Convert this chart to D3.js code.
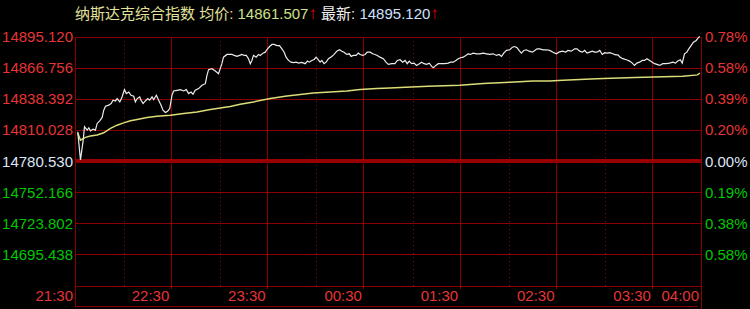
<!DOCTYPE html>
<html><head><meta charset="utf-8">
<script src="https://cdn.jsdelivr.net/npm/d3@7"></script>
<style>html,body{margin:0;padding:0;background:#000;overflow:hidden}</style>
</head><body>
<svg id="c" width="750" height="309"></svg>
<script>
// ---- data ----
const indexName = "纳斯达克综合指数";
const avgPrice = "14861.507";
const lastPrice = "14895.120";
const basePrice = 14780.53;
const priceStep = 28.6475;
const leftLabels = ["14895.120","14866.756","14838.392","14810.028","14780.530","14752.166","14723.802","14695.438"];
const rightLabels = ["0.78%","0.58%","0.39%","0.20%","0.00%","0.19%","0.38%","0.58%"];
const timeLabels = ["21:30","22:30","23:30","00:30","01:30","02:30","03:30","04:00"];
const timeLabelMinutes = [0,60,120,180,240,300,360,390];
const halfHourMinutes = [30,90,150,210,270,330];
const sessionMinutes = 390;

const priceTimes = [
1.4,3.1,4.8,5.6,7.3,8.3,9.3,11.0,12.4,13.5,
15.1,16.6,17.6,18.7,20.7,22.2,23.4,24.9,25.9,27.6,
29.0,30.5,31.7,33.2,34.6,36.3,37.3,38.4,40.0,40.8,
42.1,43.5,45.0,46.2,47.7,48.7,50.4,51.8,53.3,54.5,
56.0,57.4,58.7,60.1,61.1,63.3,65.3,67.4,69.0,70.5,
72.0,73.2,74.6,76.7,78.8,80.9,81.9,82.9,85.0,87.1,
89.1,91.2,92.2,94.4,95.4,97.5,98.9,100.6,102.2,103.7,
105.1,106.4,107.8,108.9,109.9,110.9,112.6,114.0,115.1,116.8,
118.2,119.2,120.9,122.4,123.8,125.5,127.1,128.6,130.0,131.2,
132.7,134.2,135.8,137.5,138.9,141.0,143.1,144.5,145.7,147.2,
148.7,149.9,151.3,152.4,153.4,154.9,156.1,157.6,159.7,161.1,
162.8,164.4,165.9,167.3,169.0,170.6,171.7,173.1,174.8,176.2,
177.3,179.0,180.4,181.8,183.5,185.2,186.6,188.0,189.7,191.8,
193.4,194.9,197.0,199.0,200.5,202.2,203.8,205.3,206.7,207.9,
209.4,210.9,212.5,214.2,215.6,217.1,218.8,220.4,221.9,222.9,
224.5,226.0,228.1,230.1,232.2,233.7,235.3,237.0,238.4,239.9,
241.5,243.2,244.6,246.1,247.7,249.9,251.9,254.0,256.1,258.1,
260.2,262.3,263.9,265.4,266.8,268.5,270.6,272.2,273.7,275.1,
276.3,277.8,279.3,280.9,282.6,284.7,286.1,287.6,289.2,291.3,
293.4,295.4,297.5,299.6,301.2,303.3,305.4,306.8,308.9,311.0,
312.4,314.1,315.8,317.2,318.7,320.3,322.0,323.4,324.9,326.6,
328.2,329.7,331.1,332.8,334.8,336.5,337.9,339.4,341.0,343.2,
345.2,346.9,348.3,349.7,351.4,353.1,354.5,356.0,357.7,359.3,
360.8,362.2,363.9,365.9,368.0,370.1,372.1,373.8,375.2,376.8,
378.0,379.4,380.9,382.1,383.6,385.0,386.7,388.3,389.0];

const priceValues = [
14807.4,14781.5,14799.8,14812.0,14809.0,14811.1,14808.3,14809.9,14809.0,14815.1,
14817.5,14820.6,14827.3,14830.9,14831.9,14833.4,14836.5,14835.8,14838.0,14834.9,
14839.5,14846.2,14842.6,14844.0,14841.0,14840.1,14834.9,14838.0,14839.5,14836.5,
14833.4,14835.8,14838.0,14836.5,14839.5,14837.1,14841.0,14836.5,14831.9,14827.3,
14825.2,14826.4,14828.8,14841.0,14845.0,14845.6,14846.2,14845.0,14846.2,14842.6,
14844.0,14841.9,14845.6,14847.2,14850.2,14851.7,14859.4,14864.6,14865.5,14863.3,
14860.9,14870.1,14876.1,14878.6,14878.6,14878.6,14877.7,14876.8,14877.7,14878.6,
14877.7,14877.7,14874.7,14870.1,14873.1,14877.7,14876.1,14878.6,14877.7,14879.8,
14880.7,14882.9,14885.9,14887.8,14887.8,14886.8,14886.8,14883.8,14880.7,14876.1,
14873.1,14871.5,14871.0,14871.5,14870.6,14871.3,14870.1,14872.5,14871.5,14873.1,
14874.0,14876.1,14873.7,14871.5,14873.1,14870.1,14871.5,14874.7,14876.8,14878.6,
14881.6,14882.9,14881.6,14880.7,14878.6,14879.2,14876.8,14877.7,14877.7,14879.8,
14878.6,14877.7,14878.6,14880.7,14880.7,14879.2,14878.6,14877.7,14876.1,14874.7,
14871.5,14869.5,14870.1,14870.1,14873.1,14873.7,14871.5,14873.1,14870.1,14872.5,
14870.1,14870.6,14868.5,14870.1,14871.5,14870.1,14869.5,14870.6,14867.6,14866.4,
14868.5,14870.1,14870.1,14870.1,14870.6,14871.5,14871.5,14873.1,14874.7,14875.6,
14876.1,14877.7,14879.2,14878.6,14879.8,14879.2,14879.2,14879.8,14879.2,14878.6,
14879.2,14877.7,14878.6,14876.8,14879.8,14882.3,14882.9,14885.3,14885.9,14884.8,
14882.3,14879.8,14882.3,14882.9,14881.6,14880.7,14882.3,14883.8,14883.8,14882.9,
14882.9,14882.3,14880.7,14879.2,14880.7,14881.6,14880.7,14882.3,14881.6,14883.8,
14883.8,14881.6,14880.7,14882.3,14879.8,14880.7,14881.6,14880.7,14880.7,14882.3,
14878.6,14880.2,14879.8,14880.2,14879.2,14878.3,14878.3,14876.1,14874.7,14873.7,
14872.5,14870.6,14868.5,14870.6,14871.5,14873.1,14873.1,14874.7,14873.1,14871.5,
14870.1,14869.5,14868.5,14870.1,14870.1,14870.6,14871.5,14870.6,14872.5,14873.7,
14870.6,14879.2,14880.7,14883.8,14886.9,14889.9,14891.5,14894.5,14895.12];

const avgTimes = [1.4,3.1,6.2,9.3,13.5,17.6,21.8,25.9,30.0,34.2,38.4,44.6,50.8,59.1,67.4,75.7,84.0,92.2,96.4,102.6,110.9,121.3,131.7,140.0,148.2,158.6,169.0,177.3,187.7,195.9,202.2,219.8,239.5,254.0,270.6,285.1,295.4,303.7,324.5,348.3,378.4,387.5,389.0];
const avgValues = [14806.2,14799.8,14802.3,14803.5,14804.4,14806.5,14810.5,14813.5,14815.6,14817.5,14818.8,14820.6,14821.8,14822.7,14824.3,14825.7,14827.9,14829.8,14830.7,14832.8,14834.9,14838.0,14840.4,14841.7,14843.1,14844.1,14845.0,14846.3,14847.2,14847.7,14848.1,14849.3,14850.2,14851.8,14853.0,14854.1,14854.1,14854.8,14856.3,14857.3,14858.5,14859.8,14861.5];

// ---- chart ----
const svg = d3.select("#c");
svg.append("rect").attr("width",750).attr("height",309).attr("fill","#000");
const L = 75.5, R = 701.5, T = 36.5, B = 285.5;
const x = d3.scaleLinear().domain([0, sessionMinutes]).range([L, R]);
const y = d3.scaleLinear().domain([basePrice - 4*priceStep, basePrice + 4*priceStep]).range([B, T]);
const gridColor = "#8a0000";
const font = "'Liberation Sans', Arial, 'Noto Sans CJK SC', sans-serif";
const colRed = "#e53535", colGreen = "#00c800", colBase = "#dde6f5";

const g = svg.append("g").attr("shape-rendering","crispEdges");
const levels = d3.range(4, -5, -1).map(k => basePrice + k*priceStep);
// horizontal grid
g.selectAll("line.h").data(levels).enter().append("line")
  .attr("x1", L).attr("x2", R)
  .attr("y1", (d,i) => i === 4 ? Math.round(y(d)) : Math.round(y(d)) + 0.5)
  .attr("y2", (d,i) => i === 4 ? Math.round(y(d)) : Math.round(y(d)) + 0.5)
  .attr("stroke", (d,i) => i === 4 ? "#990000" : gridColor)
  .attr("stroke-width", (d,i) => i === 4 ? 4 : 1);
// dotted verticals
g.selectAll("line.d").data(halfHourMinutes).enter().append("line")
  .attr("x1", d => Math.round(x(d)) + 0.5).attr("x2", d => Math.round(x(d)) + 0.5)
  .attr("y1", T).attr("y2", B)
  .attr("stroke", "#9a0000").attr("stroke-dasharray", "1,3");
// solid verticals
g.selectAll("line.v").data(timeLabelMinutes).enter().append("line")
  .attr("x1", d => Math.round(x(d)) - 0.5).attr("x2", d => Math.round(x(d)) - 0.5)
  .attr("y1", T)
  .attr("y2", (d,i) => i === 0 ? 307 : (i === timeLabelMinutes.length-1 ? 309 : B + 3))
  .attr("stroke", gridColor);
// bottom line
g.append("line").attr("x1", L).attr("x2", x(sessionMinutes) - 4).attr("y1", 306.5).attr("y2", 306.5).attr("stroke", gridColor);

// left / right labels (skip bottom border)
const labelColor = i => i < 4 ? colRed : (i === 4 ? colBase : colGreen);
svg.selectAll("text.l").data(leftLabels).enter().append("text")
  .attr("x", 73).attr("y", (d,i) => y(levels[i]) + 5.5)
  .attr("text-anchor","end").attr("font-family", font).attr("font-size", 15)
  .attr("fill", (d,i) => labelColor(i)).text(d => d);
svg.selectAll("text.r").data(rightLabels).enter().append("text")
  .attr("x", 705).attr("y", (d,i) => y(levels[i]) + 5.5)
  .attr("text-anchor","start").attr("font-family", font).attr("font-size", 15)
  .attr("fill", (d,i) => labelColor(i)).text(d => d);
// time labels
svg.selectAll("text.t").data(timeLabels).enter().append("text")
  .attr("x", (d,i) => x(timeLabelMinutes[i]) - 2.5).attr("y", 301)
  .attr("text-anchor","end").attr("font-family", font).attr("font-size", 15)
  .attr("fill", colRed).text(d => d);

// lines
const avgData = d3.zip(avgTimes, avgValues);
const priceData = d3.zip(priceTimes, priceValues);
const line = d3.line().x(d => x(d[0])).y(d => y(d[1]));
svg.append("path").datum(avgData).attr("d", line)
  .attr("fill","none").attr("stroke","#dcdc78").attr("stroke-width",1.5);
svg.append("path").datum(priceData).attr("d", line)
  .attr("fill","none").attr("stroke","#ececec").attr("stroke-width",1.2);

// title
const title = svg.append("text").attr("x", 75).attr("y", 19)
  .attr("font-family", font).attr("font-size", 15);
title.append("tspan").attr("fill","#e2e29a").text(indexName + " 均价: ");
title.append("tspan").attr("fill","#cfe08a").text(avgPrice);
title.append("tspan").attr("fill","#e00000").attr("font-size", 17).text("↑");
title.append("tspan").attr("fill","#f0f0f0").text(" 最新: ");
title.append("tspan").attr("fill","#cfe0ff").text(lastPrice);
title.append("tspan").attr("fill","#e00000").attr("font-size", 17).text("↑");
</script>
</body></html>
